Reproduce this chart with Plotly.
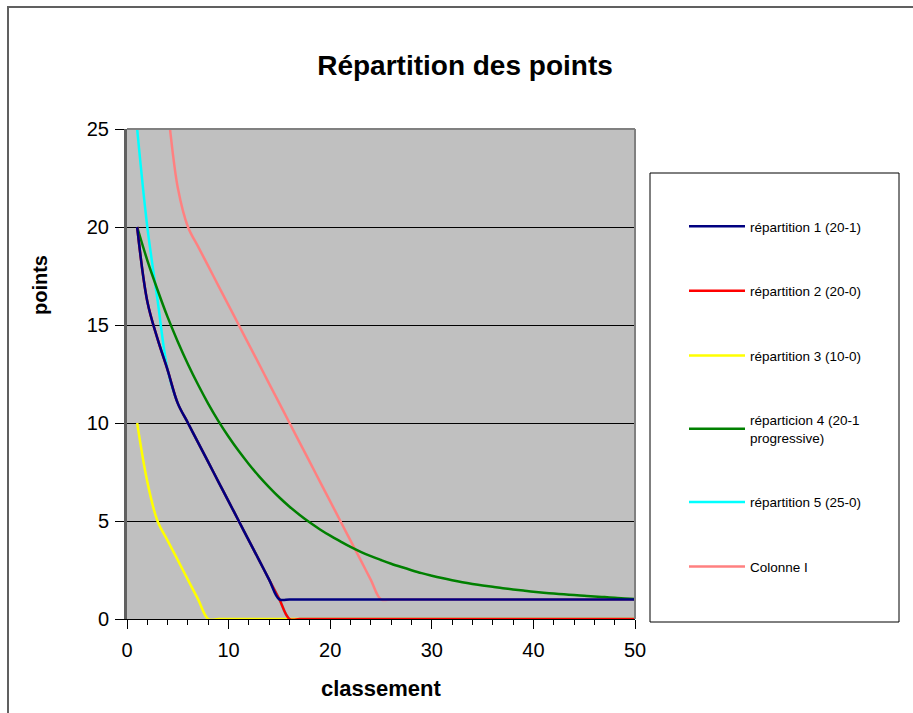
import plotly.graph_objects as go

# ---------------- data ----------------
classement = list(range(1, 51))

rep1 = [20, 16.2, 14.3, 12.7, 11, 10, 9, 8, 7, 6, 5, 4, 3, 2, 1,
        1, 1, 1, 1, 1, 1, 1, 1, 1, 1, 1, 1, 1, 1, 1,
        1, 1, 1, 1, 1, 1, 1, 1, 1, 1, 1, 1, 1, 1, 1,
        1, 1, 1, 1, 1]
rep2 = [20, 16.2, 14.3, 12.7, 11, 10, 9, 8, 7, 6, 5, 4, 3, 2, 1,
        0, 0, 0, 0, 0, 0, 0, 0, 0, 0, 0, 0, 0, 0, 0,
        0, 0, 0, 0, 0, 0, 0, 0, 0, 0, 0, 0, 0, 0, 0,
        0, 0, 0, 0, 0]
rep3 = [10, 7, 5, 4, 3, 2, 1, 0, 0, 0, 0, 0, 0, 0, 0,
        0, 0, 0, 0, 0, 0, 0, 0, 0, 0, 0, 0, 0, 0, 0,
        0, 0, 0, 0, 0, 0, 0, 0, 0, 0, 0, 0, 0, 0, 0,
        0, 0, 0, 0, 0]
rep4 = [20, 18.3, 16.8, 15.4, 14.15, 13.0, 11.95, 10.98, 10.1, 9.3,
        8.57, 7.9, 7.28, 6.72, 6.2, 5.73, 5.31, 4.92, 4.57, 4.25,
        3.96, 3.68, 3.43, 3.21, 3.01, 2.82, 2.65, 2.49, 2.34, 2.21,
        2.09, 1.98, 1.88, 1.79, 1.71, 1.64, 1.57, 1.51, 1.45, 1.39,
        1.34, 1.30, 1.26, 1.22, 1.18, 1.15, 1.12, 1.08, 1.05, 1.02]
rep5 = [25, 20, 16.3, 12.7, 11, 10, 9, 8, 7, 6, 5, 4, 3, 2, 1,
        0, 0, 0, 0, 0, 0, 0, 0, 0, 0, 0, 0, 0, 0, 0,
        0, 0, 0, 0, 0, 0, 0, 0, 0, 0, 0, 0, 0, 0, 0,
        0, 0, 0, 0, 0]
colI = [38, 34, 30, 26, 22, 20, 19, 18, 17, 16, 15, 14, 13, 12, 11,
        10, 9, 8, 7, 6, 5, 4, 3, 2, 1, 1, 1, 1, 1, 1,
        1, 1, 1, 1, 1, 1, 1, 1, 1, 1, 1, 1, 1, 1, 1,
        1, 1, 1, 1, 1]

names = ["répartition 1 (20-1)", "répartition 2 (20-0)", "répartition 3 (10-0)",
         "réparticion 4 (20-1<br>progressive)", "répartition 5 (25-0)", "Colonne I"]
series = [rep1, rep2, rep3, rep4, rep5, colI]
colors = ["#000080", "#FF0000", "#FFFF00", "#008000", "#00FFFF", "#FF8080"]

y_ticks = [0, 5, 10, 15, 20, 25]
x_ticks = [0, 10, 20, 30, 40, 50]

FONT = "Liberation Sans, Arial, sans-serif"

fig = go.Figure()
# draw order: later series underneath (as in the original)
draw_order = [5, 4, 3, 2, 1, 0]
for i in draw_order:
    fig.add_trace(go.Scatter(
        x=classement, y=series[i], name=names[i], mode="lines",
        line=dict(color=colors[i], width=2.5, shape="spline", smoothing=1),
        legendgroup="g%d" % i, legendrank=i + 1, showlegend=True,
        hoverinfo="skip"))

def px_x(p):
    return (p - 127) / 508.0

def px_y(p):
    return (619 - p) / 490.0

shapes = [
    # outer chart frame
    dict(type="rect", xref="paper", yref="paper", x0=px_x(8), x1=1.7, y0=-0.4, y1=px_y(7),
         line=dict(color="#606060", width=2), fillcolor="rgba(0,0,0,0)", layer="below"),
    # legend frame
    dict(type="rect", xref="paper", yref="paper", x0=px_x(650), x1=px_x(899),
         y0=px_y(622), y1=px_y(173), line=dict(color="black", width=1),
         fillcolor="white", layer="below"),
    # plot area border (top & right)
    dict(type="line", xref="paper", yref="paper", x0=0, x1=1, y0=1, y1=1,
         line=dict(color="#808080", width=2), layer="above"),
    dict(type="line", xref="paper", yref="paper", x0=1, x1=1, y0=0, y1=1,
         line=dict(color="#808080", width=2), layer="above"),
]

annotations = [
    dict(text="<b>points</b>", xref="paper", yref="paper", x=px_x(40), y=px_y(285),
         textangle=-90, showarrow=False, font=dict(family=FONT, size=20, color="black"),
         xanchor="center", yanchor="middle"),
    dict(text="<b>classement</b>", xref="paper", yref="paper", x=0.5, y=px_y(688),
         showarrow=False, font=dict(family=FONT, size=22, color="black"),
         xanchor="center", yanchor="middle"),
]

fig.update_layout(
    width=913, height=713,
    margin=dict(l=127, r=278, t=129, b=94, autoexpand=False),
    paper_bgcolor="white", plot_bgcolor="#C0C0C0",
    font=dict(family=FONT, color="black"),
    title=dict(text="<b>Répartition des points</b>", xref="container", yref="container",
               x=465 / 913, y=1 - 65 / 713, xanchor="center", yanchor="middle",
               font=dict(family=FONT, size=28, color="black")),
    xaxis=dict(range=[0, 50], tickvals=x_ticks, ticktext=[str(v) for v in x_ticks],
               ticks="outside", ticklen=9, tickcolor="black", tickwidth=1,
               showgrid=False, zeroline=False, showline=True, linecolor="black", linewidth=1,
               tickfont=dict(family=FONT, size=20, color="black"), ticklabelstandoff=4,
               minor=dict(dtick=2, tick0=0, ticks="outside", ticklen=5, tickcolor="black",
                          tickwidth=1, showgrid=False),
               fixedrange=True),
    yaxis=dict(range=[0, 25], tickvals=y_ticks, ticktext=[str(v) for v in y_ticks],
               ticks="outside", ticklen=9, tickcolor="black", tickwidth=1,
               showgrid=True, gridcolor="black", gridwidth=1,
               zeroline=False, showline=True, linecolor="#606060", linewidth=3,
               tickfont=dict(family=FONT, size=20, color="black"), ticklabelstandoff=2,
               fixedrange=True),
    legend=dict(xref="container", yref="container", x=684 / 913, y=1 - 211 / 713,
                xanchor="left", yanchor="top", bgcolor="rgba(0,0,0,0)", borderwidth=0,
                font=dict(family=FONT, size=13.5, color="black"),
                tracegroupgap=44, itemwidth=56, traceorder="grouped", maxheight=700),
    shapes=shapes,
    annotations=annotations,
    showlegend=True,
)

fig.write_html("out.html", config={"displayModeBar": False},
               post_script="document.body.style.margin='0';")
